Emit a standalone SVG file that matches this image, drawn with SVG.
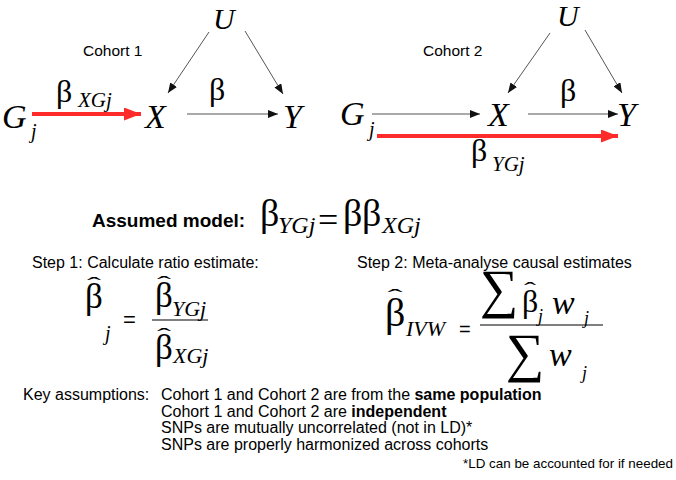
<svg xmlns="http://www.w3.org/2000/svg" width="676" height="480" viewBox="0 0 676 480">
<style>
.sans{font-family:"Liberation Sans",Arial,sans-serif;fill:#000}
.ser{font-family:"Liberation Serif","Times New Roman",serif;fill:#000}
.it{font-family:"Liberation Serif","Times New Roman",serif;font-style:italic;fill:#000}
.hat{font-family:"Liberation Serif","Times New Roman",serif;font-size:30px;text-anchor:middle;fill:#000}
.b{font-weight:bold}
.g{stroke:#555;stroke-width:1;fill:none}
.r{stroke:#ff2a2a;stroke-width:4;fill:none}
</style>
<defs>
<marker id="ah" markerUnits="userSpaceOnUse" markerWidth="10" markerHeight="8" refX="10" refY="4" orient="auto">
<path d="M0,0 L10,4 L0,8 z" fill="#111"/>
</marker>
<marker id="rh" markerUnits="userSpaceOnUse" markerWidth="17" markerHeight="13" refX="17" refY="6.5" orient="auto">
<path d="M0,0 L17,6.5 L0,13 z" fill="#ff2a2a"/>
</marker>
</defs>

<g id="connectors">
<line class="r" x1="32" y1="114" x2="141" y2="114" marker-end="url(#rh)"/>
<line class="g" x1="187" y1="114" x2="278" y2="114" marker-end="url(#ah)"/>
<line class="g" x1="209" y1="32" x2="168" y2="93" marker-end="url(#ah)"/>
<line class="g" x1="245" y1="31" x2="283" y2="94" marker-end="url(#ah)"/>
<line class="g" x1="372" y1="114" x2="480" y2="114" marker-end="url(#ah)"/>
<line class="g" x1="528" y1="114" x2="618" y2="114" marker-end="url(#ah)"/>
<line class="g" x1="550" y1="33" x2="508" y2="93" marker-end="url(#ah)"/>
<line class="g" x1="585" y1="30" x2="622" y2="93" marker-end="url(#ah)"/>
<line class="r" x1="377" y1="136" x2="618" y2="136" marker-end="url(#rh)"/>
</g>

<g id="cohort1">
<text class="sans" x="83" y="56" font-size="15.5">Cohort 1</text>
<g id="c1-U"><text class="it" x="213" y="29" font-size="30">U</text></g>
<g id="c1-G"><text class="it" x="2" y="128" font-size="34">G</text><text class="it" x="31" y="138" font-size="20">j</text></g>
<g id="c1-X"><text class="it" x="145" y="128" font-size="34">X</text></g>
<g id="c1-Y"><text class="it" x="283" y="128" font-size="34">Y</text></g>
<text class="ser" x="56" y="102" font-size="32">β</text><text class="it" x="78" y="107" font-size="21">XGj</text>
<text class="ser" x="209" y="100" font-size="32">β</text>
</g>

<g id="cohort2">
<text class="sans" x="423" y="56" font-size="15.5">Cohort 2</text>
<g id="c2-U"><text class="it" x="557" y="26" font-size="30">U</text></g>
<g id="c2-G"><text class="it" x="340" y="125" font-size="34">G</text><text class="it" x="369" y="136" font-size="20">j</text></g>
<g id="c2-X"><text class="it" x="488" y="126" font-size="34">X</text></g>
<g id="c2-Y"><text class="it" x="617" y="126" font-size="34">Y</text></g>
<text class="ser" x="560" y="101" font-size="32">β</text>
<text class="ser" x="471" y="161" font-size="32">β</text><text class="it" x="492" y="171" font-size="21">YGj</text>
</g>

<g id="model">
<text class="sans b" x="92" y="227" font-size="19">Assumed model:</text>
<text class="ser" x="260" y="226" font-size="38">β</text>
<text class="it" x="278" y="233" font-size="24">YGj</text>
<text class="ser" x="318" y="232" font-size="36">=</text>
<text class="ser" x="343" y="226" font-size="38">β</text>
<text class="ser" x="362" y="226" font-size="38">β</text>
<text class="it" x="382" y="233" font-size="24">XGj</text>
</g>

<g id="step1">
<text class="sans" x="32" y="268" font-size="16">Step 1: Calculate ratio estimate:</text>
<text class="ser" x="85" y="308" font-size="35">β</text>
<text class="hat" transform="translate(94,289.5) scale(1.4,0.6)">ˆ</text>
<text class="it" x="105" y="340" font-size="20">j</text>
<text class="sans" x="123" y="327" font-size="22">=</text>
<text class="ser" x="155" y="307" font-size="35">β</text>
<text class="hat" transform="translate(164,288.5) scale(1.4,0.6)">ˆ</text>
<text class="it" x="172" y="316" font-size="22">YGj</text>
<line x1="152" y1="320" x2="208" y2="320" stroke="#000" stroke-width="1.2"/>
<text class="ser" x="155" y="359" font-size="35">β</text>
<text class="hat" transform="translate(164,341) scale(1.4,0.6)">ˆ</text>
<text class="it" x="173" y="363" font-size="22">XGj</text>
</g>

<g id="step2">
<text class="sans" x="357" y="268" font-size="16">Step 2: Meta-analyse causal estimates</text>
<text class="ser" x="385" y="326" font-size="40">β</text>
<text class="hat" transform="translate(395,301.5) scale(1.5,0.6)">ˆ</text>
<text class="it" x="406" y="336" font-size="22">IVW</text>
<text class="sans" x="459" y="336" font-size="20">=</text>
<text class="ser" x="480" y="307" font-size="54">∑</text>
<text class="ser" x="522" y="312" font-size="32">β</text>
<text class="hat" transform="translate(530,295) scale(1.2,0.6)">ˆ</text>
<text class="it" x="538" y="322" font-size="18">j</text>
<text class="it" x="552" y="314" font-size="34">w</text>
<text class="it" x="584" y="324" font-size="18">j</text>
<line x1="480" y1="325" x2="603" y2="325" stroke="#000" stroke-width="1.2"/>
<text class="ser" x="506" y="371" font-size="54">∑</text>
<text class="it" x="549" y="366" font-size="34">w</text>
<text class="it" x="582" y="379" font-size="18">j</text>
</g>

<g id="assumptions">
<text class="sans" x="23" y="400" font-size="16">Key assumptions:</text>
<text class="sans" x="161" y="400" font-size="16">Cohort 1 and Cohort 2 are from the <tspan class="b">same population</tspan></text>
<text class="sans" x="161" y="417" font-size="16">Cohort 1 and Cohort 2 are <tspan class="b">independent</tspan></text>
<text class="sans" x="161" y="433" font-size="16">SNPs are mutually uncorrelated (not in LD)*</text>
<text class="sans" x="161" y="450" font-size="16">SNPs are properly harmonized across cohorts</text>
<text class="sans" x="673" y="468" font-size="13.4" text-anchor="end">*LD can be accounted for if needed</text>
</g>
</svg>
